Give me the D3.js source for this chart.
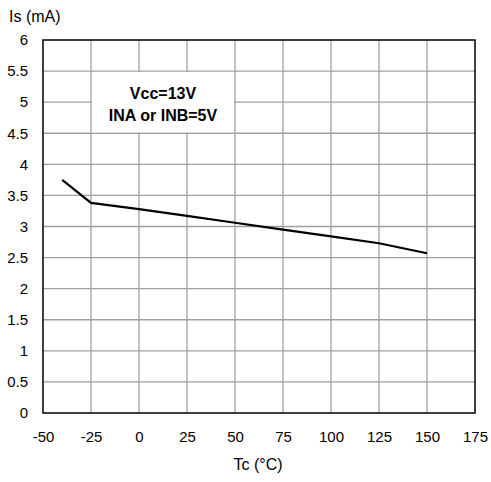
<!DOCTYPE html>
<html><head><meta charset="utf-8">
<script src="https://cdn.jsdelivr.net/npm/d3@7"></script>
<style>body{margin:0;background:#fff}svg{display:block}</style>
</head><body>
<svg id="c" width="491" height="482"></svg>
<script>
const tempC = [-40, -25, 0, 25, 50, 75, 100, 125, 150];
const isMA = [3.75, 3.38, 3.28, 3.17, 3.06, 2.95, 2.84, 2.73, 2.57];
const xTicks = [-50, -25, 0, 25, 50, 75, 100, 125, 150, 175];
const xTickLabels = ["-50", "-25", "0", "25", "50", "75", "100", "125", "150", "175"];
const yTicks = [0, 0.5, 1, 1.5, 2, 2.5, 3, 3.5, 4, 4.5, 5, 5.5, 6];
const yTickLabels = ["0", "0.5", "1", "1.5", "2", "2.5", "3", "3.5", "4", "4.5", "5", "5.5", "6"];
const noteLines = ["Vcc=13V", "INA or INB=5V"];
const xTitle = "Tc (°C)";
const yTitle = "Is (mA)";

const svg = d3.select("#c");
const L = 43, R = 475, T = 40, B = 413;
const x = d3.scaleLinear().domain([-50, 175]).range([L, R]);
const y = d3.scaleLinear().domain([0, 6]).range([B, T]);
const font = "Arial, 'Liberation Sans', sans-serif";

// grid
const g = svg.append("g");
g.selectAll(".vx").data(xTicks.slice(1, -1)).join("line")
  .attr("x1", d => x(d)).attr("x2", d => x(d)).attr("y1", T).attr("y2", B)
  .attr("stroke", "#a0a0a0").attr("stroke-width", 1.3);
g.selectAll(".hy").data(yTicks.slice(1, -1)).join("line")
  .attr("x1", L).attr("x2", R).attr("y1", d => y(d)).attr("y2", d => y(d))
  .attr("stroke", "#a0a0a0").attr("stroke-width", 1.3);

// annotation box
svg.append("rect").attr("x", x(-25) + 1).attr("y", y(5.5) + 1)
  .attr("width", x(50) - x(-25) - 2).attr("height", y(4.5) - y(5.5) - 2)
  .attr("fill", "#fff");
svg.selectAll(".note").data(noteLines).join("text")
  .attr("x", 163).attr("y", (d, i) => 99 + i * 22)
  .attr("text-anchor", "middle").attr("font-family", font)
  .attr("font-size", 16).attr("font-weight", "bold").attr("fill", "#000")
  .text(d => d);

// frame
svg.append("rect").attr("x", L).attr("y", T).attr("width", R - L).attr("height", B - T)
  .attr("fill", "none").attr("stroke", "#000").attr("stroke-width", 1.5);

// axes labels via d3 axes
const xAxis = svg.append("g").attr("transform", `translate(0,${B})`)
  .call(d3.axisBottom(x).tickValues(xTicks).tickSize(0).tickPadding(18).tickFormat((d, i) => xTickLabels[i]));
xAxis.select(".domain").remove();
xAxis.selectAll("text").attr("font-family", font).attr("font-size", 15).attr("fill", "#000");

const yAxis = svg.append("g").attr("transform", `translate(${L},0)`)
  .call(d3.axisLeft(y).tickValues(yTicks).tickSize(0).tickPadding(15).tickFormat((d, i) => yTickLabels[i]));
yAxis.select(".domain").remove();
yAxis.selectAll("text").attr("font-family", font).attr("font-size", 15).attr("fill", "#000");

// data line
svg.append("path").datum(tempC.map((t, i) => [t, isMA[i]]))
  .attr("d", d3.line().x(d => x(d[0])).y(d => y(d[1])))
  .attr("fill", "none").attr("stroke", "#000").attr("stroke-width", 2.2);

// titles
svg.append("text").attr("x", 258).attr("y", 470).attr("text-anchor", "middle")
  .attr("font-family", font).attr("font-size", 16).attr("fill", "#000").text(xTitle);
svg.append("text").attr("x", 9).attr("y", 22)
  .attr("font-family", font).attr("font-size", 16).attr("fill", "#000").text(yTitle);
</script>
</body></html>
